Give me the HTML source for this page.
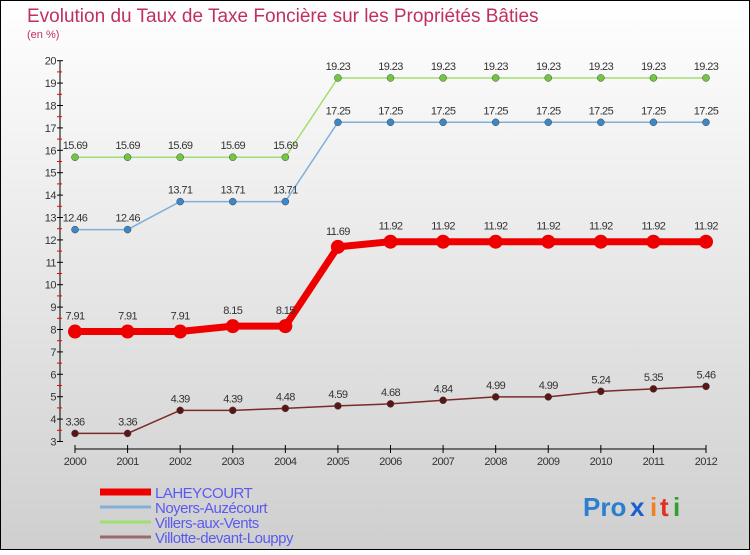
<!DOCTYPE html>
<html><head><meta charset="utf-8">
<style>
html,body{margin:0;padding:0;}
body{width:750px;height:550px;overflow:hidden;font-family:"Liberation Sans",sans-serif;}
</style></head>
<body>
<svg id="chart" width="750" height="550" xmlns="http://www.w3.org/2000/svg" font-family="Liberation Sans, sans-serif">
<defs>
<linearGradient id="bg" x1="0" y1="0" x2="0" y2="1">
<stop offset="0" stop-color="#ffffff"/><stop offset="1" stop-color="#cfcfcf"/>
</linearGradient>
</defs>
<rect x="0" y="0" width="750" height="550" fill="url(#bg)" stroke="#000" stroke-width="2"/>
<text x="27" y="22" font-size="19" fill="#c0305a">Evolution du Taux de Taxe Foncière sur les Propriétés Bâties</text>
<text x="27" y="38" font-size="11" fill="#c0305a">(en %)</text>
<g id="axes"></g>
<g id="series"></g>
<g id="legend"></g>
<g font-size="26" font-weight="bold">
<text x="583" y="516" fill="#2a7fd0">Pro</text>
<text x="630" y="516" fill="#1a5fd0">x</text>
<text x="650" y="516" fill="#f08020">i</text>
<text x="660" y="516" fill="#e03020">t</text>
<text x="673" y="516" fill="#30a030">i</text>
</g>
</svg>
<script>
const years=[2000,2001,2002,2003,2004,2005,2006,2007,2008,2009,2010,2011,2012];
const yTicks=[3,4,5,6,7,8,9,10,11,12,13,14,15,16,17,18,19,20];
const seriesNames=["LAHEYCOURT","Noyers-Auzécourt","Villers-aux-Vents","Villotte-devant-Louppy"];
const laheycourt=[7.91,7.91,7.91,8.15,8.15,11.69,11.92,11.92,11.92,11.92,11.92,11.92,11.92];
const noyers=[12.46,12.46,13.71,13.71,13.71,17.25,17.25,17.25,17.25,17.25,17.25,17.25,17.25];
const villers=[15.69,15.69,15.69,15.69,15.69,19.23,19.23,19.23,19.23,19.23,19.23,19.23,19.23];
const villotte=[3.36,3.36,4.39,4.39,4.48,4.59,4.68,4.84,4.99,4.99,5.24,5.35,5.46];
const NS="http://www.w3.org/2000/svg";
const X0=75,X1=706,Y20=60.7,UNIT=22.4;
function xs(i){return X0+(X1-X0)*i/(years.length-1);}
function ys(v){return Y20+(20-v)*UNIT;}
function mk(tag,attrs,parent,txt){const e=document.createElementNS(NS,tag);for(const k in attrs)e.setAttribute(k,attrs[k]);if(txt!==undefined)e.textContent=txt;parent.appendChild(e);return e;}
const ax=document.getElementById('axes');
let l=mk('line',{x1:60,y1:ys(20),x2:60,y2:ys(3),stroke:'#000'},ax);


yTicks.forEach(v=>{
 const t=mk('line',{x1:57,y1:ys(v),x2:63,y2:ys(v),stroke:'#000'},ax);
 
 
 if(v<20){const m=mk('line',{x1:57,y1:ys(v+0.5),x2:62,y2:ys(v+0.5),stroke:'#e00'},ax);
 
 }
 const tx=mk('text',{x:56,y:ys(v)+4,'font-size':11,'text-anchor':'end',fill:'#333','letter-spacing':'-0.5'},ax,String(v));
 
 
});
l=mk('line',{x1:X0,y1:449,x2:X1,y2:449,stroke:'#000'},ax);


years.forEach((y,i)=>{
 const t=mk('line',{x1:xs(i),y1:445,x2:xs(i),y2:453,stroke:'#000'},ax);
 
 
 const tx=mk('text',{x:xs(i),y:465,'font-size':11,'text-anchor':'middle',fill:'#333','letter-spacing':'-0.5'},ax,String(y));
 
 
});
const sg=document.getElementById('series');
const defs=[[villotte,'#7a2a2a','#5a1515',1.5,3.5],[noyers,'#80b0d8','#3a88c8',1.5,3.5],[villers,'#a0e070','#70c840',1.5,3.5],[laheycourt,'#ee0000','#ee0000',7,7]];
const ids=['villotte','noyers','villers','laheycourt'];
defs.forEach((d,si)=>{
 const vals=d[0];
 const p=mk('polyline',{points:vals.map((v,i)=>xs(i)+','+ys(v)).join(' '),fill:'none',stroke:d[1],'stroke-width':d[3],'stroke-linejoin':'round'},sg);
 
 
 vals.forEach((v,i)=>{
  const c=mk('circle',{cx:xs(i),cy:ys(v),r:d[4],fill:d[2],stroke:si<3?'#444':'none','stroke-width':0.5},sg);
  
  
  const t=mk('text',{x:xs(i),y:ys(v)-(si==3?12:8),'font-size':11,'text-anchor':'middle',fill:'#333','letter-spacing':'-0.6'},sg,String(v));
  
  
 });
});
const lg=document.getElementById('legend');
const lcol=['#ee0000','#80b0d8','#a0e070','#9a6a6a'];
const lw=[7,3,3,3];
seriesNames.forEach((n,i)=>{
 const y=492+i*15;
 const ln=mk('line',{x1:100,y1:y,x2:151,y2:y,stroke:lcol[i],'stroke-width':lw[i]},lg);
 
 
 const t=mk('text',{x:155,y:y+6,'font-size':15,fill:'#5a5af0','letter-spacing':'-0.5'},lg,n);
 
 
});
</script>
</body></html>
